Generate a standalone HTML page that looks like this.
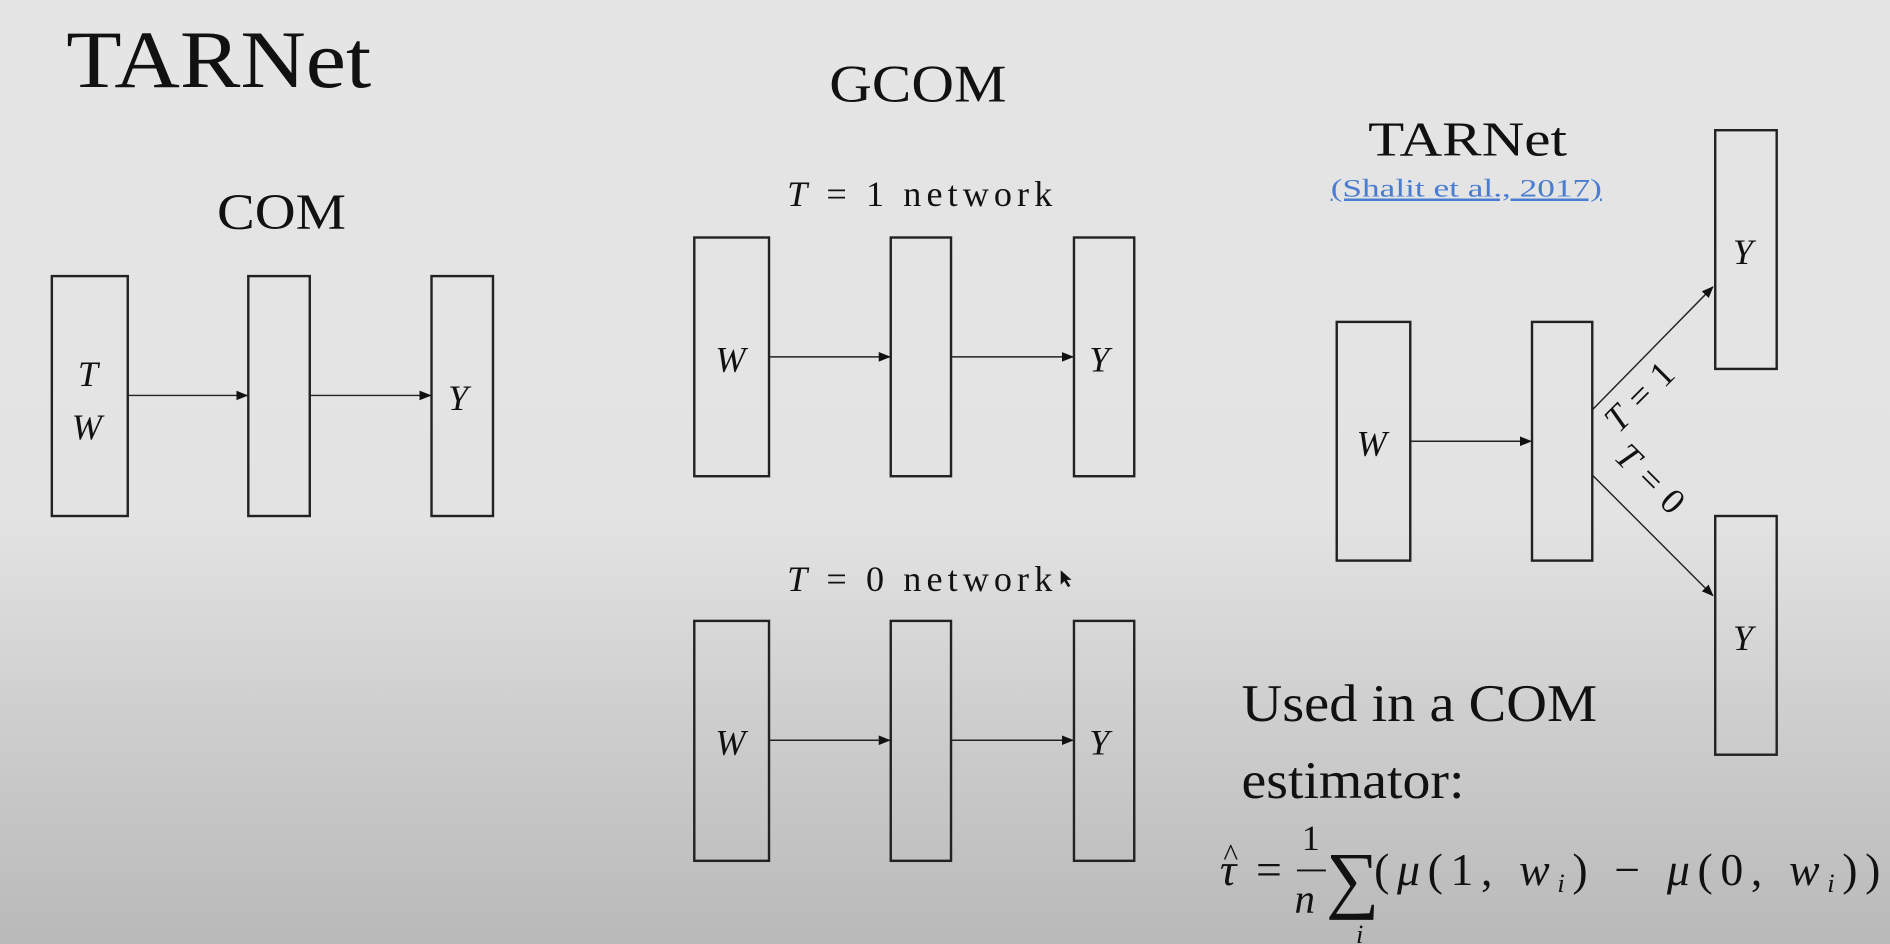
<!DOCTYPE html>
<html><head><meta charset="utf-8"><style>
html,body{margin:0;padding:0;width:1890px;height:944px;overflow:hidden}
body{background:linear-gradient(to bottom,#e5e5e5 0%,#e3e3e3 55%,#cfcfcf 75%,#b9b9b9 100%)}
svg{position:absolute;left:0;top:0}
text{font-family:"Liberation Serif",serif;fill:#111}
.i{font-style:italic}
</style></head><body>
<svg width="1890" height="944" viewBox="0 0 1568 783" preserveAspectRatio="none">
<defs><marker id="a" markerWidth="10" markerHeight="8" refX="9" refY="4" orient="auto" markerUnits="userSpaceOnUse"><path d="M0,0 L10,4 L0,8 z" fill="#111"/></marker></defs>
<g fill="none" stroke="#222" stroke-width="2">
<rect x="43" y="229" width="63" height="199"/><rect x="206" y="229" width="51" height="199"/><rect x="358" y="229" width="51" height="199"/>
<rect x="576" y="197" width="62" height="198"/><rect x="739" y="197" width="50" height="198"/><rect x="891" y="197" width="50" height="198"/>
<rect x="576" y="515" width="62" height="199"/><rect x="739" y="515" width="50" height="199"/><rect x="891" y="515" width="50" height="199"/>
<rect x="1109" y="267" width="61" height="198"/><rect x="1271" y="267" width="50" height="198"/>
<rect x="1423" y="108" width="51" height="198"/><rect x="1423" y="428" width="51" height="198"/>
</g>
<g stroke="#222" stroke-width="1.2" marker-end="url(#a)">
<line x1="106" y1="328" x2="205" y2="328"/><line x1="257" y1="328" x2="357" y2="328"/>
<line x1="638" y1="296" x2="738" y2="296"/><line x1="789" y1="296" x2="890" y2="296"/>
<line x1="638" y1="614" x2="738" y2="614"/><line x1="789" y1="614" x2="890" y2="614"/>
<line x1="1170" y1="366" x2="1270" y2="366"/>
<line x1="1321" y1="340" x2="1421" y2="238"/><line x1="1321" y1="394" x2="1421" y2="494"/>
</g>
<text x="55" y="72" font-size="68" textLength="253" lengthAdjust="spacingAndGlyphs">TARNet</text>
<text x="180" y="190" font-size="42" textLength="107" lengthAdjust="spacingAndGlyphs">COM</text>
<text x="688" y="84" font-size="44" textLength="147" lengthAdjust="spacingAndGlyphs">GCOM</text>
<text x="653" y="171" font-size="30" textLength="220" lengthAdjust="spacing"><tspan class="i">T</tspan> = 1 network</text>
<text x="653" y="490" font-size="30" textLength="220" lengthAdjust="spacing"><tspan class="i">T</tspan> = 0 network</text>
<text x="1135" y="129" font-size="40" textLength="165" lengthAdjust="spacingAndGlyphs">TARNet</text>
<text x="1104" y="163" font-size="21" textLength="225" lengthAdjust="spacingAndGlyphs" style="fill:#4a7cd0" text-decoration="underline">(Shalit et al., 2017)</text>
<g font-size="30" class="i" text-anchor="middle">
<text x="73" y="320" class="i">T</text><text x="72" y="364" class="i">W</text><text x="380" y="340" class="i">Y</text>
<text x="606" y="308" class="i">W</text><text x="912" y="308" class="i">Y</text>
<text x="606" y="626" class="i">W</text><text x="912" y="626" class="i">Y</text>
<text x="1138" y="378" class="i">W</text><text x="1446" y="219" class="i">Y</text><text x="1446" y="539" class="i">Y</text>
</g>
<text font-size="30" transform="translate(1343,360) rotate(-45)" textLength="68"><tspan class="i">T</tspan> = 1</text>
<text font-size="30" transform="translate(1338,380) rotate(45)" textLength="68"><tspan class="i">T</tspan> = 0</text>
<path d="M880,473 l0,12 l3,-3 l3,5 l2,-1 l-3,-5 l4,0 z" fill="#111"/>
<text x="1030" y="598" font-size="44" textLength="295" lengthAdjust="spacingAndGlyphs">Used in a COM</text>
<text x="1030" y="662" font-size="44" textLength="185" lengthAdjust="spacingAndGlyphs">estimator:</text>
<g font-size="38">
<text x="1012" y="734" class="i">τ</text><text x="1015" y="718" font-size="26">^</text>
<text x="1042" y="734">=</text>
<text x="1080" y="705" font-size="30">1</text>
<line x1="1076" y1="722" x2="1100" y2="722" stroke="#111" stroke-width="1.5"/>
<text x="1074" y="757" font-size="34" class="i">n</text>
<text x="1100" y="750" font-size="62">∑</text>
<text x="1125" y="782" font-size="22" class="i">i</text>
<text x="1140" y="734" textLength="420" lengthAdjust="spacing">(<tspan class="i">μ</tspan>(1, <tspan class="i">w</tspan><tspan font-size="22" class="i" dy="6">i</tspan><tspan dy="-6">) − </tspan><tspan class="i">μ</tspan>(0, <tspan class="i">w</tspan><tspan font-size="22" class="i" dy="6">i</tspan><tspan dy="-6">))</tspan></text>
</g>
</svg>
</body></html>
